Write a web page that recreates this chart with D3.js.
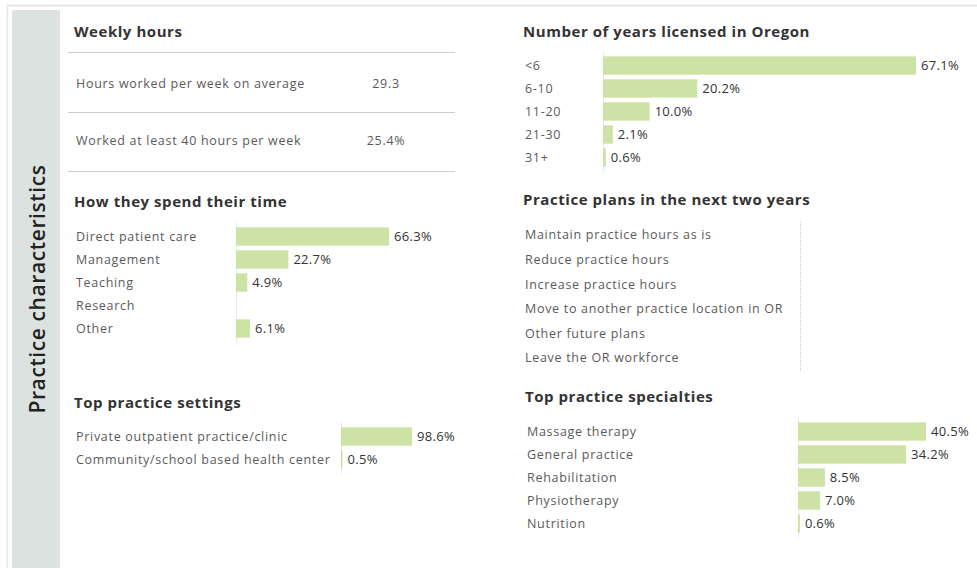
<!DOCTYPE html>
<html>
<head>
<meta charset="utf-8">
<script src="https://cdn.jsdelivr.net/npm/d3@7"></script>
<style>
  html, body { margin: 0; padding: 0; background: #fff; }
  svg { display: block; }
  .title { font-family: "Open Sans", sans-serif; font-weight: 700; font-size: 15px; fill: #333; letter-spacing: 0.55px; }
  .cat { font-family: "Open Sans", sans-serif; font-size: 12.5px; fill: #5a5a5a; letter-spacing: 0.7px; }
  .val { font-family: "Open Sans", sans-serif; font-size: 13px; fill: #333; letter-spacing: 0.3px; }
</style>
</head>
<body>
<svg id="chart" width="977" height="568"></svg>
<script>
// ---- data ----
const sideTitle = "Practice characteristics";

const weeklyLabels = ["Hours worked per week on average", "Worked at least 40 hours per week"];
const weeklyValues = ["29.3", "25.4%"];

const timeCategories = ["Direct patient care", "Management", "Teaching", "Research", "Other"];
const timeValues = [66.3, 22.7, 4.9, null, 6.1];

const settingCategories = ["Private outpatient practice/clinic", "Community/school based health center"];
const settingValues = [98.6, 0.5];

const yearCategories = ["<6", "6-10", "11-20", "21-30", "31+"];
const yearValues = [67.1, 20.2, 10.0, 2.1, 0.6];

const planCategories = ["Maintain practice hours as is", "Reduce practice hours", "Increase practice hours",
  "Move to another practice location in OR", "Other future plans", "Leave the OR workforce"];

const specialtyCategories = ["Massage therapy", "General practice", "Rehabilitation", "Physiotherapy", "Nutrition"];
const specialtyValues = [40.5, 34.2, 8.5, 7.0, 0.6];

// ---- drawing ----
const svg = d3.select("#chart");
const barColor = "#cde3a5";

// outer frame
svg.append("line").attr("x1", 7).attr("x2", 977).attr("y1", 5.5).attr("y2", 5.5)
  .attr("stroke", "#e6e6e6").attr("stroke-width", 2);
svg.append("line").attr("x1", 7.5).attr("x2", 7.5).attr("y1", 5).attr("y2", 568)
  .attr("stroke", "#e6e6e6").attr("stroke-width", 1.5);

// side band with rotated heading
svg.append("rect").attr("x", 12).attr("y", 10).attr("width", 48).attr("height", 560).attr("fill", "#dce2df");
svg.append("text")
  .attr("transform", "translate(45,289) rotate(-90)")
  .attr("text-anchor", "middle")
  .style("font-family", "'Open Sans', sans-serif")
  .style("font-size", "21px")
  .style("font-weight", 600)
  .style("letter-spacing", "0.6px")
  .style("fill", "#222")
  .text(sideTitle);

function title(x, y, t) {
  svg.append("text").attr("class", "title").attr("x", x).attr("y", y).text(t);
}

// Weekly hours table
title(74, 37, "Weekly hours");
const tableRows = d3.scalePoint().domain(weeklyLabels).range([84, 141]);
[52, 112, 171].forEach(y => {
  svg.append("line").attr("x1", 68).attr("x2", 455).attr("y1", y + 0.5).attr("y2", y + 0.5)
    .attr("stroke", "#cfcfcf");
});
const wk = svg.append("g");
wk.selectAll("text.cat").data(weeklyLabels).join("text")
  .attr("class", "cat").attr("x", 76).attr("y", d => tableRows(d)).attr("dy", "0.35em").text(d => d);
wk.selectAll("text.num").data(weeklyValues).join("text")
  .attr("class", "cat num").attr("x", 386).attr("text-anchor", "middle")
  .attr("y", (d, i) => tableRows(weeklyLabels[i])).attr("dy", "0.35em").text(d => d);

// generic horizontal bar panel
function barPanel(opt) {
  const g = svg.append("g");
  const y = d3.scaleBand().domain(opt.cats)
    .range([opt.top, opt.top + opt.step * opt.cats.length]).paddingInner(0.2).paddingOuter(0.1);
  const maxV = d3.max(opt.vals);
  const x = d3.scaleLinear().domain([0, maxV]).range([opt.axisX, opt.axisX + opt.maxW]);

  // faint baseline
  g.append("line").attr("x1", opt.axisX + 0.5).attr("x2", opt.axisX + 0.5)
    .attr("y1", opt.top - 3).attr("y2", opt.top + opt.step * opt.cats.length + 3)
    .attr("stroke", "#ececec");

  g.selectAll("text.cat").data(opt.cats).join("text")
    .attr("class", "cat").attr("x", opt.labelX)
    .attr("y", d => y(d) + y.bandwidth() / 2).attr("dy", "0.35em").text(d => d);

  const rows = opt.cats.map((c, i) => ({ c, v: opt.vals[i] })).filter(d => d.v != null);
  g.selectAll("rect").data(rows).join("rect")
    .attr("x", x(0)).attr("y", d => y(d.c))
    .attr("width", d => Math.max(1.5, x(d.v) - x(0))).attr("height", y.bandwidth())
    .attr("fill", barColor);
  g.selectAll("text.val").data(rows).join("text")
    .attr("class", "val").attr("x", d => Math.max(x(0) + 1.5, x(d.v)) + 5)
    .attr("y", d => y(d.c) + y.bandwidth() / 2).attr("dy", "0.35em")
    .text(d => d.v.toFixed(1) + "%");
}

title(74, 207, "How they spend their time");
barPanel({ cats: timeCategories, vals: timeValues, top: 225, step: 23, labelX: 76, axisX: 236, maxW: 153 });

title(74, 408, "Top practice settings");
barPanel({ cats: settingCategories, vals: settingValues, top: 425, step: 23, labelX: 76, axisX: 341, maxW: 71 });

title(523, 37, "Number of years licensed in Oregon");
barPanel({ cats: yearCategories, vals: yearValues, top: 54, step: 23, labelX: 525, axisX: 603, maxW: 313 });

title(523, 205, "Practice plans in the next two years");
const planY = d3.scalePoint().domain(planCategories).range([235, 358]);
svg.append("line").attr("x1", 800.5).attr("x2", 800.5).attr("y1", 222).attr("y2", 371)
  .attr("stroke", "#c8c8c8").attr("stroke-dasharray", "1,1");
svg.append("g").selectAll("text").data(planCategories).join("text")
  .attr("class", "cat").attr("x", 525).attr("y", d => planY(d)).attr("dy", "0.35em").text(d => d);

title(525, 402, "Top practice specialties");
barPanel({ cats: specialtyCategories, vals: specialtyValues, top: 420, step: 23, labelX: 527, axisX: 798, maxW: 128 });
</script>
</body>
</html>
